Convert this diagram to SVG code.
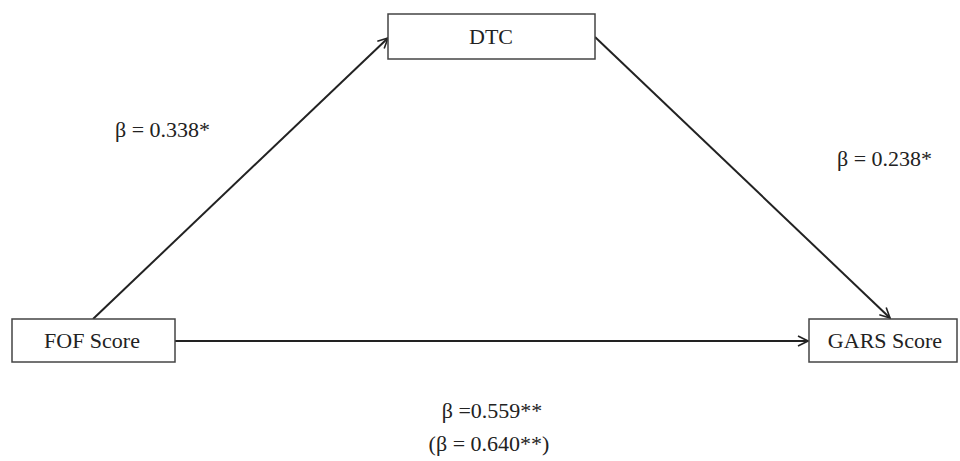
<svg xmlns="http://www.w3.org/2000/svg" width="960" height="461" viewBox="0 0 960 461">
<defs>
<marker id="arr" viewBox="0 0 12 12" refX="11" refY="6" markerWidth="12" markerHeight="12" markerUnits="userSpaceOnUse" orient="auto">
<path d="M1,1 L11,6 L1,11" fill="none" stroke="#222" stroke-width="1.6"/>
</marker>
<style>
.box{fill:#fff;stroke:#444;stroke-width:1.5}
.t{font-family:"Liberation Serif","Times New Roman",serif;font-size:22px;fill:#222}
.c{stroke:#222;stroke-width:2;fill:none;marker-end:url(#arr)}
</style>
</defs>
<rect width="960" height="461" fill="#fff"/>
<g id="connectors">
<line class="c" x1="93" y1="319" x2="388" y2="38"/>
<line class="c" x1="595" y1="37" x2="890" y2="318"/>
<line class="c" x1="175" y1="341" x2="808" y2="341"/>
</g>
<g id="dtc">
<rect class="box" x="388" y="14" width="207" height="45"/>
<text class="t" x="491" y="44" text-anchor="middle">DTC</text>
</g>
<g id="fof">
<rect class="box" x="12" y="319" width="163" height="43"/>
<text class="t" x="92" y="348" text-anchor="middle">FOF Score</text>
</g>
<g id="gars">
<rect class="box" x="809" y="319" width="148" height="43"/>
<text class="t" x="885" y="348" text-anchor="middle">GARS Score</text>
</g>
<g id="labels">
<text class="t" x="115" y="137">β = 0.338*</text>
<text class="t" x="837" y="166">β = 0.238*</text>
<text class="t" x="492" y="418" text-anchor="middle">β =0.559**</text>
<text class="t" x="489" y="451" text-anchor="middle">(β = 0.640**)</text>
</g>
</svg>
